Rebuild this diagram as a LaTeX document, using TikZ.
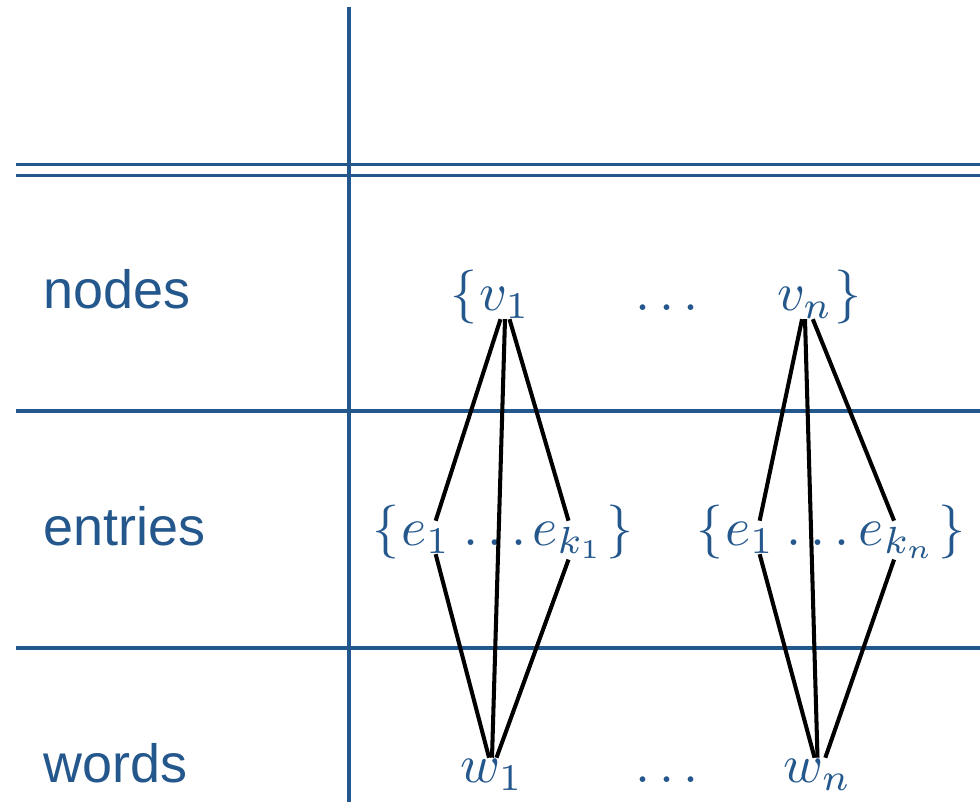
\documentclass[tikz,border=0pt]{standalone}
\usepackage{fontspec}
\newfontfamily\labelfont{Liberation Sans}
\usepackage{tikz}
\usetikzlibrary{positioning}
\definecolor{cRule}{RGB}{36,87,140}
\begin{document}
\begin{tikzpicture}[x=0.02cm,y=-0.02cm,
   rule/.style={draw=cRule,line width=1.8pt},
   lvl/.style={anchor=base west,inner sep=0pt,text=cRule,font=\labelfont\fontsize{30.7}{37}\selectfont},
   sym/.style={anchor=base,inner sep=0pt,text=cRule,scale=3.07},
   link/.style={draw=black,line width=2.3pt}]
  \useasboundingbox (0,0) rectangle (980,802);
  % table rules
  \draw[rule] (349,7) -- (349,802);
  \draw[rule] (16,164.5) -- (980,164.5);
  \draw[rule] (16,175.5) -- (980,175.5);
  \draw[rule] (16,411) -- (980,411);
  \draw[rule] (16,648) -- (980,648);
  % row labels
  \node[lvl] (lNodes) at (43,308) {nodes};
  \node[lvl] (lEntries) at (43,545) {entries};
  \node[lvl] (lWords) at (43,782) {words};
  % nodes row
  \node[sym] (v1) at (505,310) {$v_1$};
  \node[sym,anchor=base east] (vL) at (v1.base west) {$\{$};
  \node[sym] (vdots) at (667,310) {$\dots$};
  \node[sym] (vn) at (805,310) {$v_n$};
  \node[sym,anchor=base west] (vR) at (vn.base east) {$\}$};
  % entries row
  \node[sym] (ea1) at (426,545) {$e_1$};
  \node[sym,anchor=base east] (eaL) at (ea1.base west) {$\{$};
  \node[sym] (eadots) at (495,545) {$\dots$};
  \node[sym] (eak) at (568.5,545) {$e_{k_1}$};
  \node[sym,anchor=base west] (eaR) at (eak.base east) {$\}$};
  \node[sym] (eb1) at (750,545) {$e_1$};
  \node[sym,anchor=base east] (ebL) at (eb1.base west) {$\{$};
  \node[sym] (ebdots) at (818,545) {$\dots$};
  \node[sym] (ebk) at (897.5,545) {$e_{k_n}$};
  \node[sym,anchor=base west] (ebR) at (ebk.base east) {$\}$};
  % words row
  \node[sym] (w1) at (492,782) {$w_1$};
  \node[sym] (wdots) at (667,782) {$\dots$};
  \node[sym] (wn) at (817.5,782) {$w_n$};
  % links, first group
  \draw[link] (v1.-105) -- (ea1.60);
  \draw[link] (v1.south) -- (w1.north);
  \draw[link] (v1.-75) -- (eak.north);
  \draw[link] (ea1.-60) -- (w1.100);
  \draw[link] (eak.south) -- (w1.75);
  % links, last group
  \draw[link] (vn.-100) -- (eb1.60);
  \draw[link] (vn.south) -- (wn.north);
  \draw[link] (vn.-65) -- (ebk.100);
  \draw[link] (eb1.-60) -- (wn.100);
  \draw[link] (ebk.-100) -- (wn.65);
\end{tikzpicture}
\end{document}
